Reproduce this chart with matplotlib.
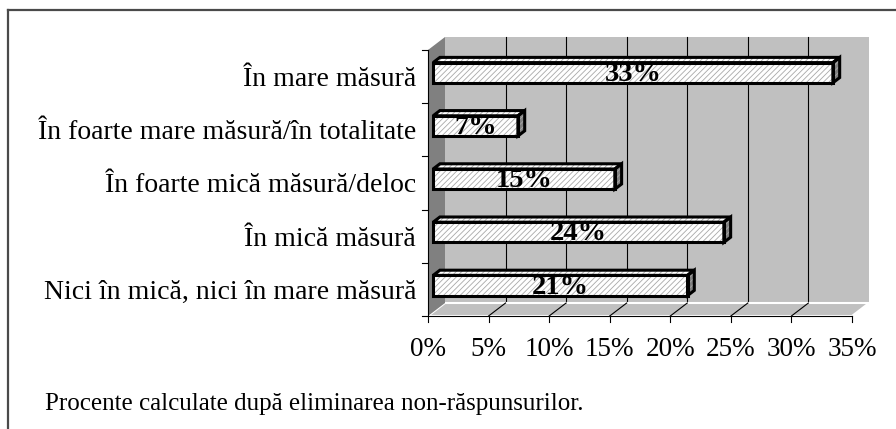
import matplotlib
matplotlib.use("Agg")
import matplotlib.pyplot as plt
from matplotlib.patches import Polygon
from matplotlib.lines import Line2D

# ---- data (top to bottom as shown) ----
categories = ["În mare măsură",
              "În foarte mare măsură/în totalitate",
              "În foarte mică măsură/deloc",
              "În mică măsură",
              "Nici în mică, nici în mare măsură"]
values = [33, 7, 15, 24, 21]
xticks = [0, 5, 10, 15, 20, 25, 30, 35]
xticklabels = ["0%", "5%", "10%", "15%", "20%", "25%", "30%", "35%"]
note = "Procente calculate după eliminarea non-răspunsurilor."

plt.rcParams['font.family'] = ['Liberation Serif', 'DejaVu Serif']
plt.rcParams['hatch.linewidth'] = 0.6

W, H = 896, 429
fig = plt.figure(figsize=(W / 100, H / 100), dpi=100)
fig.patch.set_facecolor('white')

# front plane of plot area in pixels
x0p, x1p, ytop, ybot = 428, 852, 50, 316
ax = fig.add_axes([x0p / W, (H - ybot) / H, (x1p - x0p) / W, (ybot - ytop) / H])
xmax = 35
ncat = len(categories)
ax.set_xlim(0, xmax)
ax.set_ylim(0, ncat)
ax.axis('off')

sx = xmax / (x1p - x0p)
sy = ncat / (ybot - ytop)
DX, DY = 17, 13  # depth offset in pixels


def P(x, y, d):
    return (x + d * DX * sx, y + d * DY * sy)


def poly(pts, **kw):
    p = Polygon(pts, closed=True, clip_on=False, **kw)
    ax.add_patch(p)
    return p


wall = '#c0c0c0'
# back wall
poly([P(0, 0, 1), P(xmax, 0, 1), P(xmax, ncat, 1), P(0, ncat, 1)],
     facecolor=wall, edgecolor='none', zorder=1)
# floor
poly([P(0, 0, 0), P(xmax, 0, 0), P(xmax, 0, 1), P(0, 0, 1)],
     facecolor=wall, edgecolor='white', lw=1.5, zorder=1.2)
# left wall
poly([P(0, 0, 0), P(0, ncat, 0), P(0, ncat, 1), P(0, 0, 1)],
     facecolor='#808080', edgecolor='none', zorder=1.5)

# gridlines on back wall and floor
for t in xticks[1:-1]:
    a, b = P(t, 0, 1), P(t, ncat, 1)
    ax.add_line(Line2D([a[0], b[0]], [a[1], b[1]], color='black', lw=0.8,
                       zorder=1.1, clip_on=False))
    c = P(t, 0, 0)
    ax.add_line(Line2D([c[0], a[0]], [c[1], a[1]], color='black', lw=0.8,
                       zorder=1.3, clip_on=False))

# axes lines and ticks
tick_px = 6
ax.add_line(Line2D([0, xmax], [0, 0], color='black', lw=0.8, zorder=2, clip_on=False))
for t in xticks:
    ax.add_line(Line2D([t, t], [0, -tick_px * sy], color='black', lw=0.8,
                       zorder=2, clip_on=False))
ax.add_line(Line2D([0, 0], [0, ncat], color='black', lw=0.8, zorder=2, clip_on=False))
for k in range(ncat + 1):
    ax.add_line(Line2D([0, -tick_px * sx], [k, k], color='black', lw=0.8,
                       zorder=2, clip_on=False))

# tick labels
for t, lab in zip(xticks, xticklabels):
    ax.text(t, -40 * sy, lab, ha='center', va='baseline', fontsize=19.5, zorder=5)

# bars
h = 0.19
d0, d1 = 0.3, 0.7
hatch_col = '#a8a8a8'
for i, (cat, v) in enumerate(zip(categories, values)):
    yc = ncat - 1 - i + 0.5
    front = [P(0, yc - h, d0), P(v, yc - h, d0), P(v, yc + h, d0), P(0, yc + h, d0)]
    top = [P(0, yc + h, d0), P(v, yc + h, d0), P(v, yc + h, d1), P(0, yc + h, d1)]
    side = [P(v, yc - h, d0), P(v, yc - h, d1), P(v, yc + h, d1), P(v, yc + h, d0)]
    for pts, fc in ((front, 'white'), (top, 'white'), (side, '#808080')):
        poly(pts, facecolor=fc, edgecolor=hatch_col, hatch='//////', lw=0, zorder=3)
        poly(pts, facecolor='none', edgecolor='black', lw=2.2, joinstyle='miter', zorder=3.5)
    cx, cy = P(v / 2, yc, d0)
    ax.text(cx, cy - 8 * sy, f"{v}%", ha='center', va='baseline', fontsize=20.5,
            fontweight='bold', zorder=6)
    # category label
    ax.text(-12 * sx, yc - 9.5 * sy, cat, ha='right', va='baseline', fontsize=20, zorder=5)

# footnote
fig.text(45 / W, 1 - 410 / H, note, ha='left', va='baseline', fontsize=18)

# outer frame (only top and left visible)
fig.add_artist(Line2D([8 / W, 1], [1 - 9.5 / H, 1 - 9.5 / H], transform=fig.transFigure,
                      color='#4a4a4a', lw=1.6))
fig.add_artist(Line2D([8 / W, 8 / W], [0, 1 - 9.5 / H], transform=fig.transFigure,
                      color='#4a4a4a', lw=1.6))

fig.savefig('out.png', dpi=100)
